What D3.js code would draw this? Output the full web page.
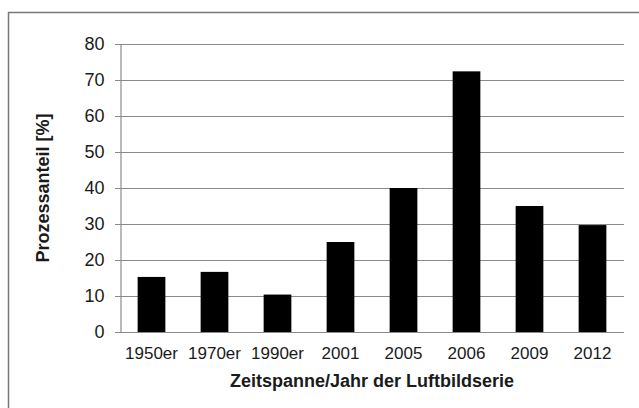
<!DOCTYPE html>
<html>
<head>
<meta charset="utf-8">
<script src="https://cdn.jsdelivr.net/npm/d3@7"></script>
<style>
  body { margin: 0; background: #fff; }
  text { font-family: "Liberation Sans", Arial, sans-serif; fill: #1a1a1a; }
</style>
</head>
<body>
<script>
// Data
const categories = ["1950er", "1970er", "1990er", "2001", "2005", "2006", "2009", "2012"];
const values = [15.3, 16.7, 10.4, 25, 40, 72.4, 35, 29.7];
const yTicks = [0, 10, 20, 30, 40, 50, 60, 70, 80];

const w = 639;
const h = 408;
const margin = {left: 120, right: 15, top: 44, bottom: 76};

const svg = d3.select("body")
  .append("svg")
  .attr("width", w)
  .attr("height", h);

// outer frame (runs past right and bottom edge)
svg.append("rect")
  .attr("x", 8.5)
  .attr("y", 12.5)
  .attr("width", w)
  .attr("height", h)
  .attr("fill", "none")
  .attr("stroke", "#777")
  .attr("stroke-width", 1.5);

const xScale = d3.scaleBand()
  .domain(categories)
  .range([margin.left, w - margin.right])
  .paddingInner(0.56)
  .paddingOuter(0.28);

const yScale = d3.scaleLinear()
  .domain([0, 80])
  .range([h - margin.bottom, margin.top]);

// gridlines
svg.append("g")
  .selectAll("line")
  .data(yTicks)
  .enter()
  .append("line")
  .attr("x1", margin.left - 5)
  .attr("x2", w - margin.right)
  .attr("y1", d => Math.round(yScale(d)) + 0.5)
  .attr("y2", d => Math.round(yScale(d)) + 0.5)
  .attr("stroke", "#8a8a8a")
  .attr("stroke-width", 1.2);

// y axis
const yAxis = svg.append("g")
  .attr("transform", `translate(${margin.left + 0.5}, 0)`)
  .call(d3.axisLeft(yScale).tickValues(yTicks).tickSize(0).tickPadding(16));
yAxis.select(".domain").attr("stroke", "#8a8a8a").attr("stroke-width", 1.2);
yAxis.selectAll("text").style("font-size", "18px").attr("fill", "#1a1a1a");

// bars
svg.selectAll("rect.bar")
  .data(categories)
  .enter()
  .append("rect")
  .attr("class", "bar")
  .attr("x", d => xScale(d))
  .attr("width", xScale.bandwidth())
  .attr("y", (d, i) => yScale(values[i]))
  .attr("height", (d, i) => yScale(0) - yScale(values[i]))
  .attr("fill", "#000");

// x axis
const xAxis = svg.append("g")
  .attr("transform", `translate(0, ${yScale(0)})`)
  .call(d3.axisBottom(xScale).tickSize(0).tickPadding(15));
xAxis.select(".domain").remove();
xAxis.selectAll("text").style("font-size", "17px").attr("fill", "#1a1a1a");

// axis titles
svg.append("text")
  .attr("x", (margin.left + w - margin.right) / 2)
  .attr("y", 387)
  .attr("text-anchor", "middle")
  .style("font-size", "18px")
  .style("font-weight", "bold")
  .text("Zeitspanne/Jahr der Luftbildserie");

svg.append("text")
  .attr("transform", `translate(49, ${(margin.top + h - margin.bottom) / 2}) rotate(-90)`)
  .attr("text-anchor", "middle")
  .style("font-size", "18px")
  .style("font-weight", "bold")
  .text("Prozessanteil [%]");
</script>
</body>
</html>
